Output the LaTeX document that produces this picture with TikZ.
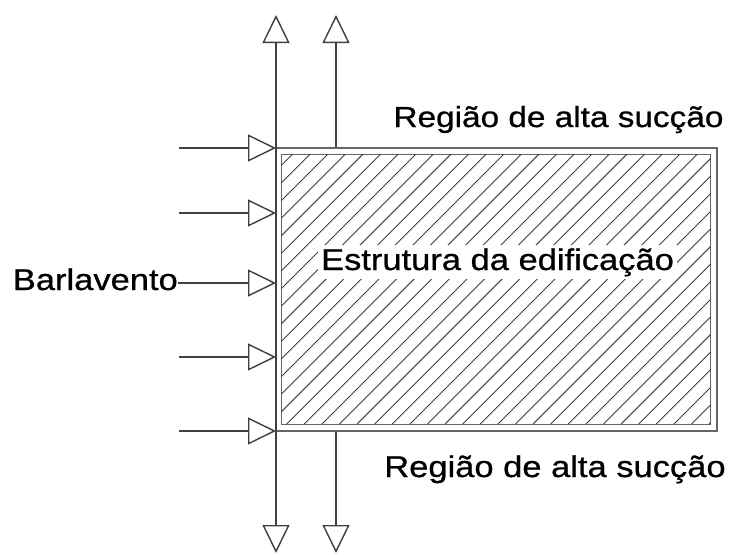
\documentclass[tikz,border=0pt]{standalone}
\usepackage{fontspec}
\setmainfont{Liberation Sans}[FakeStretch=1.15,FakeBold=0.8]
\usetikzlibrary{arrows.meta}
\tikzset{
>={Triangle[open,length=28pt,width=27pt]},
WIND/.style ={draw=black!75,line join=miter,line cap=butt,line width=0.5mm,->},
WALL/.style ={draw=black!60,line join=miter,line cap=butt,line width=0.45mm},
HATCH/.style ={draw=black!75,line cap=butt,line width=0.32mm},
LABEL/.style={font=\fontsize{#1}{#1}\selectfont, inner sep=0pt},
LABEL/.default = 30,
}
\begin{document}
\begin{tikzpicture}[x=1pt, y=-1pt] %Barlavento
	\useasboundingbox (0,0) rectangle (744,554);
	\node[WALL, minimum width=441pt, minimum height=283pt, inner sep=0pt] (bldg) at (496.5,289.5) {};
	\path[WALL] ([shift={(6,7)}]bldg.north west) rectangle ([shift={(-7,-7)}]bldg.south east);
	\begin{scope}
		\clip ([shift={(6,7)}]bldg.north west) rectangle ([shift={(-7,-7)}]bldg.south east);
		\foreach \k in {0,...,40} \path[HATCH] ({22.7+17.6*\k},424) -- ++(290,-290);
	\end{scope}
	\node[LABEL, fill=white, inner sep=3pt, anchor=base] (core) at (497.5,270) {Estrutura da edificação};
	\node[LABEL=29, anchor=base] (top) at (558.5,127) {Região de alta sucção};
	\node[LABEL, anchor=base] (bottom) at (555,477) {Região de alta sucção};
	\node[LABEL, anchor=base east] (bar) at (178,290) {Barlavento};
	% wind on the windward face
	\foreach \y [count=\i] in {148,213,283,357,431} \coordinate (w\i) at (276,\y);
	\foreach \i in {1,2,4,5} \path[WIND] ([xshift=-97pt]w\i) -- (w\i);
	\path[WIND] (bar.east |- w3) -- (w3);
	% suction
	\coordinate (n1) at (276,15); \coordinate (s1) at (276,553);
	\coordinate (n2) at (336,15); \coordinate (s2) at (336,553);
	\path[WIND,<->] (s1) -- (n1);
	\path[WIND] (bldg.north -| n2) -- (n2);
	\path[WIND] (bldg.south -| s2) -- (s2);
\end{tikzpicture}
\end{document}
